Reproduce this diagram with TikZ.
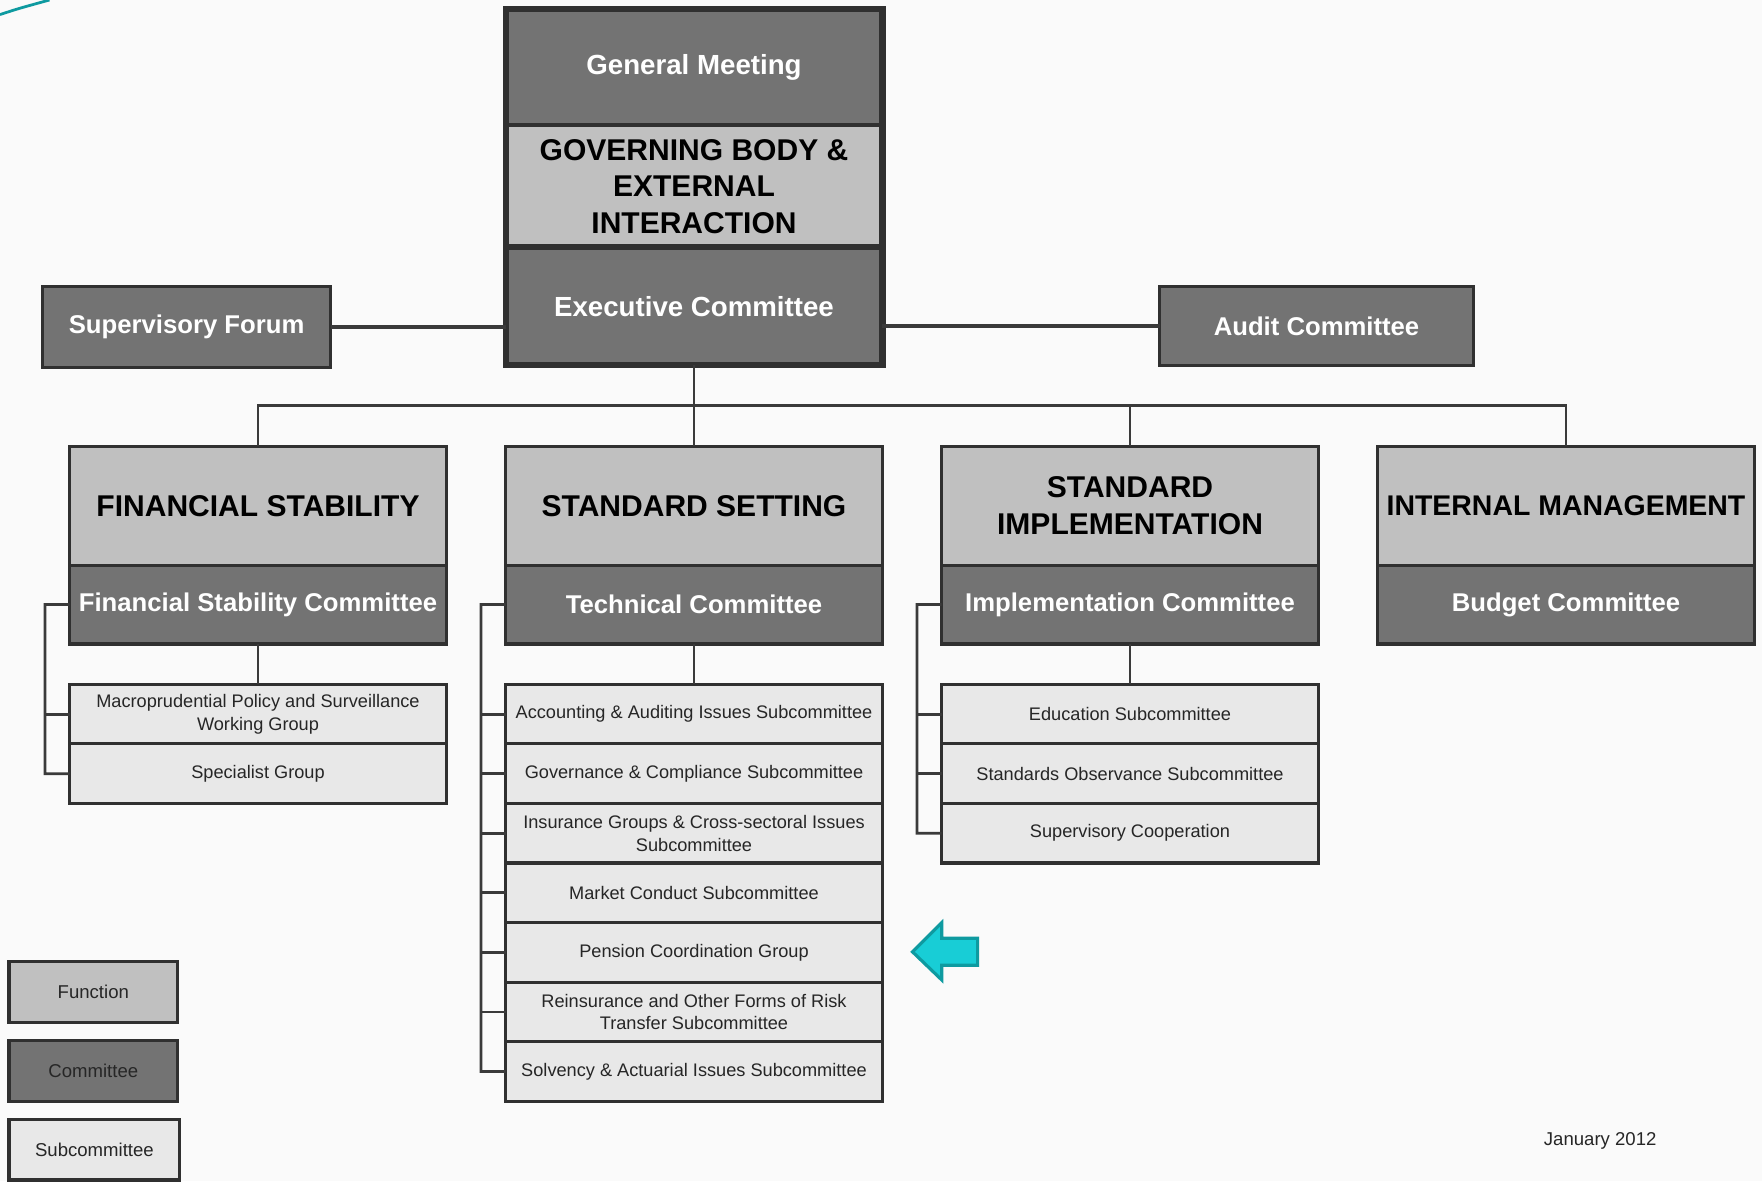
\documentclass[tikz,border=0pt]{standalone}
\usepackage{fontspec}
\setmainfont{Liberation Sans}
\usetikzlibrary{calc}
\definecolor{bg}{HTML}{FAFAFA}
\definecolor{dk}{HTML}{737373}
\definecolor{lt}{HTML}{C0C0C0}
\definecolor{sb}{HTML}{E8E8E8}
\definecolor{ln}{HTML}{303030}
\definecolor{cy}{HTML}{18CDD6}
\definecolor{cyd}{HTML}{0E9AA0}
\begin{document}
\begin{tikzpicture}[x=0.01cm,y=-0.01cm,
 base/.style={draw=ln, line width=0.8pt, anchor=north west, inner sep=1pt, outer sep=0pt, align=center},
 func/.style={base, fill=lt, font=\fontsize{7.6}{9.2}\selectfont\bfseries, text=black, minimum width=3.35cm, minimum height=1.06cm},
 comm/.style={base, fill=dk, font=\fontsize{6.5}{7.8}\selectfont\bfseries, text=white, minimum width=3.35cm, minimum height=0.70cm},
 topc/.style={base, fill=dk, font=\fontsize{7}{8.4}\selectfont\bfseries, text=white, minimum width=3.35cm},
 sub/.style={base, fill=sb, font=\fontsize{4.6}{5.7}\selectfont, text=black!85, minimum width=3.35cm, minimum height=0.53cm},
 leg/.style={base, font=\fontsize{4.7}{5.7}\selectfont, text=black!85, minimum width=1.50cm, minimum height=0.54cm},
 conn/.style={draw=ln!95, line width=0.7pt}]
\useasboundingbox (0,0) rectangle (1568,1051);
\fill[bg] (0,0) rectangle (1568,1051);
\draw[cyd, line width=0.7pt] (0,13) .. controls (15,8) .. (44,0);

% top block
\node[topc, minimum height=1.04cm, line width=1.4pt] (gm) at (450,8) {General Meeting};
\node[func, minimum height=1.08cm] (gb) at (450,112) {GOVERNING BODY \&\\EXTERNAL\\INTERACTION};
\node[topc, minimum height=1.05cm, line width=1.4pt] (ex) at (450,220) {Executive Committee};
\draw[ln, line width=1.6pt] (gm.north west) rectangle (ex.south east);

\node[comm, minimum width=2.56cm, minimum height=0.72cm] (sf) at (38,255) {Supervisory Forum};
\node[comm, minimum width=2.79cm, minimum height=0.70cm] (au) at (1032,255) {Audit Committee};
\draw[conn, line width=1pt] (sf.east) -- (sf.east -| ex.west);
\draw[conn, line width=1pt] (au.west -| ex.east) -- (au.west);

% functions
\node[func] (fsf) at (62,397) {FINANCIAL STABILITY};
\node[comm] (fsc) at (62,503) {Financial Stability Committee};
\node[func] (ssf) at (450,397) {STANDARD SETTING};
\node[comm] (ssc) at (450,503) {Technical Committee};
\node[func] (sif) at (838,397) {STANDARD\\IMPLEMENTATION};
\node[comm] (sic) at (838,503) {Implementation Committee};
\node[func, font=\fontsize{7.2}{9}\selectfont\bfseries] (imf) at (1226,397) {INTERNAL MANAGEMENT};
\node[comm] (imc) at (1226,503) {Budget Committee};

\coordinate (bus) at (618,361);
\draw[conn] (ex.south) -- (ssf.north);
\draw[conn] (fsf.north) -- (fsf.north |- bus) -- (imf.north |- bus) -- (imf.north);
\draw[conn] (sif.north) -- (sif.north |- bus);

% subcommittees: financial stability
\node[sub] (fs1) at (62,609) {Macroprudential Policy and Surveillance\\Working Group};
\node[sub] (fs2) at (62,662) {Specialist Group};
% standard setting
\node[sub] (ss1) at (450,609) {Accounting \& Auditing Issues Subcommittee};
\node[sub] (ss2) at (450,662) {Governance \& Compliance Subcommittee};
\node[sub] (ss3) at (450,715) {Insurance Groups \& Cross-sectoral Issues\\Subcommittee};
\node[sub] (ss4) at (450,768) {Market Conduct Subcommittee};
\node[sub] (ss5) at (450,821) {Pension Coordination Group};
\node[sub] (ss6) at (450,874) {Reinsurance and Other Forms of Risk\\Transfer Subcommittee};
\node[sub] (ss7) at (450,927) {Solvency \& Actuarial Issues Subcommittee};
% standard implementation
\node[sub] (si1) at (838,609) {Education Subcommittee};
\node[sub] (si2) at (838,662) {Standards Observance Subcommittee};
\node[sub] (si3) at (838,715) {Supervisory Cooperation};

\draw[conn] (fsc.south) -- (fs1.north);
\draw[conn] (ssc.south) -- (ss1.north);
\draw[conn] (sic.south) -- (si1.north);

\coordinate (fsb) at (40,538);
\coordinate (ssb) at (428,538);
\coordinate (sib) at (816,538);
\draw[conn] (fsc.west) -- (fsb) |- (fs2.west);
\draw[conn] (fsb |- fs1.west) -- (fs1.west);
\draw[conn] (ssc.west) -- (ssb) |- (ss7.west);
\foreach \n in {ss1,ss2,ss3,ss4,ss5,ss6}{\draw[conn] (ssb |- \n.west) -- (\n.west);}
\draw[conn] (sic.west) -- (sib) |- (si3.west);
\foreach \n in {si1,si2}{\draw[conn] (sib |- \n.west) -- (\n.west);}

% arrow
\draw[fill=cy, draw=cyd, line width=0.8pt, line join=miter] (812,847) -- (838,821) -- (838,835) -- (870,835) -- (870,859) -- (838,859) -- (838,872) -- cycle;

% legend
\node[leg, fill=lt] (lf) at (8,856) {Function};
\node[leg, fill=dk] (lc) at (8,926) {Committee};
\node[leg, fill=sb, minimum width=1.52cm] (ls) at (8,996) {Subcommittee};

\node[font=\fontsize{4.7}{5.7}\selectfont, text=black!85] (date) at (1424,1015) {January 2012};
\end{tikzpicture}
\end{document}
